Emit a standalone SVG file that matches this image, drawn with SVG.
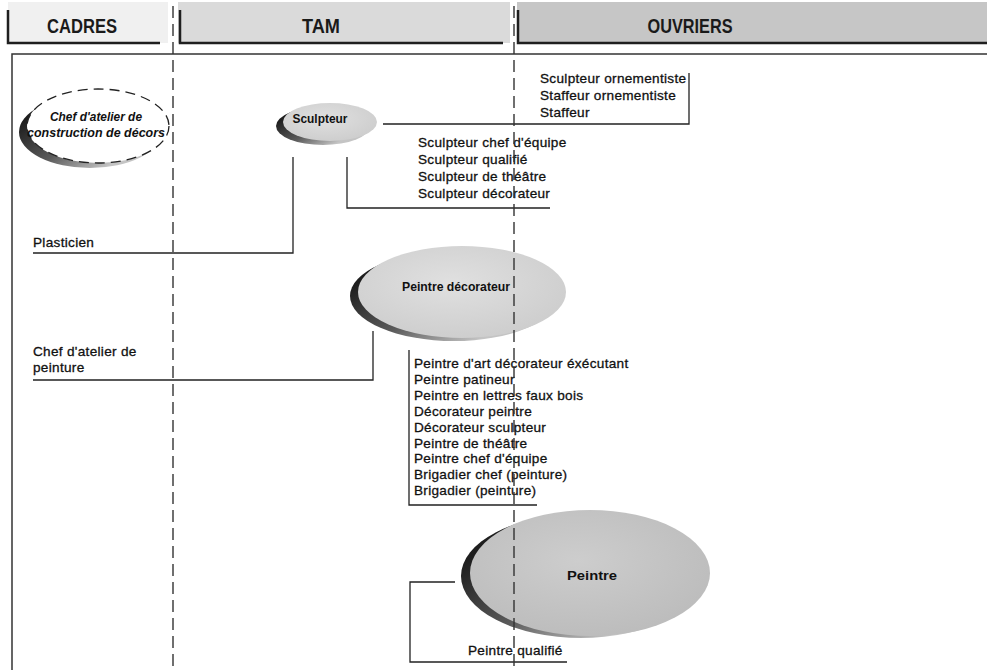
<svg xmlns="http://www.w3.org/2000/svg" width="987" height="670" viewBox="0 0 987 670">
  <style>
    .hdr { font-family: "Liberation Sans", Arial, sans-serif; font-weight: bold; font-size: 20px; fill: #1a1a1a; text-anchor: middle; }
    .hdr-edge { fill: none; stroke: #1f1f1f; stroke-width: 2.5; }
    .frame { fill: none; stroke: #333; stroke-width: 1.5; }
    .lane { fill: none; stroke: #333; stroke-width: 1.4; stroke-dasharray: 12 6; }
    .wire { fill: none; stroke: #222; stroke-width: 1.3; }
    .item { font-family: "Liberation Sans", Arial, sans-serif; font-size: 13.6px; letter-spacing: 0.3px; fill: #111; stroke: #111; stroke-width: 0.3; }
    .node-label { font-family: "Liberation Sans", Arial, sans-serif; font-weight: bold; font-size: 13px; fill: #111; text-anchor: middle; }
    .bubble { fill: url(#bubbleFill); }
    .bubble-dark { fill: url(#bubbleDark); }
    .shadow { fill: url(#shadowFill); }
  </style>
  <defs>
    <radialGradient id="bubbleFill" cx="0.45" cy="0.4" r="0.7">
      <stop offset="0" stop-color="#e0e0e0"/>
      <stop offset="1" stop-color="#cbcbcb"/>
    </radialGradient>
    <radialGradient id="bubbleDark" cx="0.45" cy="0.4" r="0.7">
      <stop offset="0" stop-color="#cdcdcd"/>
      <stop offset="1" stop-color="#bababa"/>
    </radialGradient>
    <linearGradient id="shadowFill" x1="0" y1="0.4" x2="0.8" y2="1">
      <stop offset="0" stop-color="#1e1e1e"/>
      <stop offset="0.45" stop-color="#5a5a5a"/>
      <stop offset="0.85" stop-color="#c4c4c4"/>
    </linearGradient>
  </defs>

  <rect width="987" height="670" fill="#fff"/>

  <!-- column headers -->
  <g id="header-cadres">
    <rect x="8" y="2" width="160" height="41" fill="#f0f0f0"/>
    <path class="hdr-edge" d="M8,10 V43 H160"/>
    <text class="hdr" x="82" y="33" textLength="70" lengthAdjust="spacingAndGlyphs">CADRES</text>
  </g>
  <g id="header-tam">
    <rect x="178" y="2" width="332" height="41" fill="#dadada"/>
    <path class="hdr-edge" d="M180,10 V43 H503"/>
    <text class="hdr" x="321" y="33" textLength="38" lengthAdjust="spacingAndGlyphs">TAM</text>
  </g>
  <g id="header-ouvriers">
    <rect x="517" y="2" width="470" height="41" fill="#c6c6c6"/>
    <path class="hdr-edge" d="M518,10 V43 H987"/>
    <text class="hdr" x="690" y="33" textLength="85" lengthAdjust="spacingAndGlyphs">OUVRIERS</text>
  </g>

  <!-- outer frame (open at right and bottom) -->
  <path class="frame" d="M12,670 V54 H987"/>

  <!-- nodes -->
  <g id="node-chef-decors">
    <ellipse class="shadow" cx="90" cy="132" rx="71" ry="36"/>
    <ellipse cx="98" cy="126" rx="71" ry="37" fill="#fff" stroke="#222" stroke-width="1.3" stroke-dasharray="10 6"/>
    <text class="node-label" font-style="italic" font-size="12" x="96" y="121" textLength="92" lengthAdjust="spacingAndGlyphs">Chef d'atelier de</text>
    <text class="node-label" font-style="italic" font-size="12" x="96" y="137" textLength="138" lengthAdjust="spacingAndGlyphs">construction de décors</text>
  </g>

  <g id="node-sculpteur">
    <ellipse class="shadow" cx="323" cy="126" rx="47" ry="19"/>
    <ellipse class="bubble" cx="330" cy="122" rx="47" ry="19"/>
    <text class="node-label" x="320" y="123" textLength="55" lengthAdjust="spacingAndGlyphs">Sculpteur</text>
  </g>

  <g id="node-peintre-decorateur">
    <ellipse class="shadow" cx="454" cy="296" rx="104" ry="45"/>
    <ellipse class="bubble" cx="462" cy="292" rx="104" ry="46"/>
    <text class="node-label" x="456" y="291" textLength="108" lengthAdjust="spacingAndGlyphs">Peintre décorateur</text>
  </g>

  <g id="node-peintre">
    <ellipse class="shadow" cx="581" cy="576" rx="120" ry="62"/>
    <ellipse class="bubble-dark" cx="590" cy="573" rx="120" ry="63"/>
    <text class="node-label" x="592" y="580" textLength="50" lengthAdjust="spacingAndGlyphs">Peintre</text>
  </g>

  <!-- job title lists -->
  <g id="list-sculpteur-ouvriers" class="item">
    <text x="540" y="83">Sculpteur ornementiste</text>
    <text x="540" y="100">Staffeur ornementiste</text>
    <text x="540" y="117">Staffeur</text>
  </g>

  <g id="list-sculpteur-tam" class="item">
    <text x="418" y="147">Sculpteur chef d'équipe</text>
    <text x="418" y="164">Sculpteur qualifié</text>
    <text x="418" y="181">Sculpteur de théâtre</text>
    <text x="418" y="198">Sculpteur décorateur</text>
  </g>

  <g id="label-plasticien" class="item">
    <text x="33" y="247">Plasticien</text>
  </g>

  <g id="label-chef-peinture" class="item">
    <text x="33" y="356">Chef d'atelier de</text>
    <text x="33" y="372">peinture</text>
  </g>

  <g id="list-peintre-decorateur" class="item">
    <text x="414" y="368">Peintre d'art décorateur éxécutant</text>
    <text x="414" y="383.9">Peintre patineur</text>
    <text x="414" y="399.8">Peintre en lettres faux bois</text>
    <text x="414" y="415.7">Décorateur peintre</text>
    <text x="414" y="431.6">Décorateur sculpteur</text>
    <text x="414" y="447.5">Peintre de théâtre</text>
    <text x="414" y="463.4">Peintre chef d'équipe</text>
    <text x="414" y="479.3">Brigadier chef (peinture)</text>
    <text x="414" y="495.2">Brigadier (peinture)</text>
  </g>

  <g id="label-peintre-qualifie" class="item">
    <text x="468" y="655">Peintre qualifié</text>
  </g>

  <!-- connectors -->
  <g id="connectors" class="wire">
    <polyline points="383,124 689,124 689,73"/>
    <polyline points="347,157 347,208 550,208"/>
    <polyline points="293,157 293,253 33,253"/>
    <polyline points="373,331 373,380 33,380"/>
    <polyline points="409,350 409,505 537,505"/>
    <polyline points="455,582 410,582 410,662 567,662"/>
  </g>

  <!-- lane separators -->
  <g id="lanes" class="lane">
    <line x1="173" y1="6" x2="173" y2="670"/>
    <line x1="514" y1="6" x2="514" y2="670"/>
  </g>
</svg>
